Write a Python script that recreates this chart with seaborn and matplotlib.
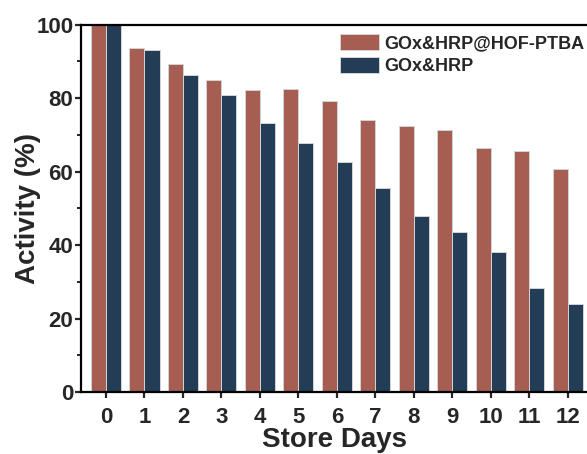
import matplotlib
matplotlib.use("Agg")
import matplotlib.pyplot as plt
import seaborn as sns
import pandas as pd
from matplotlib.ticker import MultipleLocator

days = list(range(13))
hof_ptba = [100, 93.7, 89.2, 85.0, 82.2, 82.6, 79.1, 74.0, 72.3, 71.2, 66.3, 65.5, 60.8]
free_enzyme = [100, 93.2, 86.3, 80.8, 73.1, 67.7, 62.5, 55.5, 48.0, 43.6, 38.1, 28.2, 23.9]
series_names = ["GOx&HRP@HOF-PTBA", "GOx&HRP"]
colors = ["#A55E51", "#223D55"]

df = pd.DataFrame({
    "day": days * 2,
    "activity": hof_ptba + free_enzyme,
    "sample": [series_names[0]] * len(days) + [series_names[1]] * len(days),
})

sns.set_style("ticks")
plt.rcParams["font.family"] = ["Liberation Sans", "DejaVu Sans"]
plt.rcParams["font.weight"] = "bold"

fig = plt.figure(figsize=(5.87, 4.54), dpi=100)
ax = fig.add_axes([0.138, 0.1366, 0.862, 0.809])

sns.barplot(data=df, x="day", y="activity", hue="sample", hue_order=series_names,
            palette=colors, width=0.78, edgecolor="#d4d4d4", linewidth=0.7,
            saturation=1, ax=ax)

ax.set_ylim(0, 100)
ax.set_xlim(-0.65, 12.5)
ax.yaxis.set_major_locator(MultipleLocator(20))
ax.yaxis.set_minor_locator(MultipleLocator(10))

for side in ["left", "bottom", "top"]:
    ax.spines[side].set_linewidth(1.6)
    ax.spines[side].set_color("black")
ax.spines["right"].set_visible(False)

ax.tick_params(axis="both", which="major", direction="out", length=4.5, width=1.6,
               labelsize=16)
ax.tick_params(axis="x", which="major", pad=6)
ax.tick_params(axis="y", which="major", pad=1)
ax.tick_params(axis="y", which="minor", direction="out", length=3, width=1.4)
ax.tick_params(axis="x", which="minor", bottom=False)
for lbl in ax.get_xticklabels() + ax.get_yticklabels():
    lbl.set_fontweight("bold")

ax.set_xlabel("Store Days", fontsize=20, fontweight="bold")
ax.xaxis.label.set_va("baseline")
ax.xaxis.set_label_coords(0.5, -0.149)
ax.set_ylabel("Activity (%)", fontsize=20, fontweight="bold")
ax.yaxis.set_label_coords(-0.079, 0.5)

handles, labels = ax.get_legend_handles_labels()
ax.legend(handles, labels, loc="upper left", bbox_to_anchor=(0.563, 0.946),
          bbox_transform=fig.transFigure, frameon=False, borderpad=0,
          handlelength=2.2, handleheight=1.0, handletextpad=0.3,
          labelspacing=0.3, prop={"size": 13, "weight": "bold"})

fig.savefig("out.png", dpi=100)
